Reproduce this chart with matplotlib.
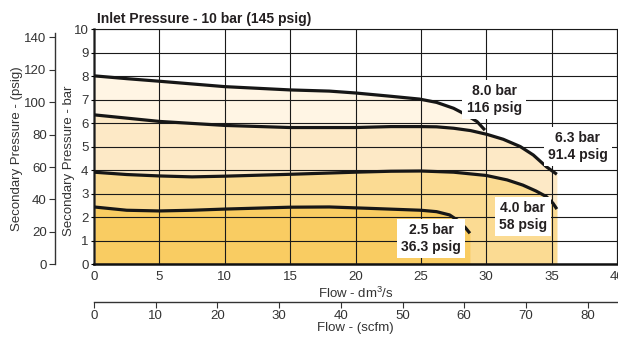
import matplotlib
matplotlib.use('Agg')
import matplotlib.pyplot as plt

plt.rcParams['font.family'] = ['Liberation Sans', 'DejaVu Sans']
plt.rcParams['mathtext.fontset'] = 'custom'
plt.rcParams['mathtext.rm'] = 'Liberation Sans'

# flow (dm3/s) vs secondary pressure (bar) for each regulator setting
flow_80 = [0, 2.5, 5, 10, 15, 18, 20, 22.7, 24.9, 26.2, 27.5, 28.5, 29.3, 29.9]
bar_80 = [8.02, 7.90, 7.79, 7.56, 7.42, 7.37, 7.29, 7.15, 7.03, 6.89, 6.64, 6.35, 6.07, 5.71]

flow_63 = [0, 2.5, 5, 10, 15, 20, 22.7, 25, 26.2, 27.5, 28.8, 30.05, 31.3, 32.6, 33.6, 34.6, 35.4]
bar_63 = [6.36, 6.22, 6.08, 5.91, 5.82, 5.82, 5.86, 5.86, 5.85, 5.79, 5.69, 5.53, 5.32, 5.01, 4.65, 4.15, 3.83]

flow_40 = [0, 2.5, 5, 7.5, 10, 15, 20, 22.7, 25, 27.5, 30, 31.6, 32.8, 33.8, 34.6, 35.1, 35.4]
bar_40 = [3.92, 3.82, 3.76, 3.72, 3.75, 3.83, 3.92, 3.96, 3.97, 3.92, 3.78, 3.59, 3.37, 3.12, 2.88, 2.60, 2.35]

flow_25 = [0, 2.5, 5, 7.5, 10, 15, 18, 21.1, 25, 26.2, 27.2, 27.9, 28.4, 28.75]
bar_25 = [2.44, 2.30, 2.27, 2.30, 2.35, 2.43, 2.44, 2.38, 2.30, 2.24, 2.10, 1.84, 1.56, 1.32]

curve_labels = ['8.0 bar\n116 psig', '6.3 bar\n91.4 psig', '4.0 bar\n58 psig', '2.5 bar\n36.3 psig']
label_pos = [(30.6, 7.0), (37.0, 5.0), (32.8, 2.03), (25.8, 1.11)]

BAR_TO_PSI = 14.5038
DM3S_TO_SCFM = 2.11888

fills = ['#fff5e4', '#fde9c6', '#fbdb93', '#f9cc62']
curves = [(flow_80, bar_80), (flow_63, bar_63), (flow_40, bar_40), (flow_25, bar_25)]
txt = '#231f20'

fig = plt.figure(figsize=(6.18, 3.37), dpi=100)
ax = fig.add_axes([94 / 618, 72.7 / 337, 523 / 618, 235 / 337])

for i, (fx, fy) in enumerate(curves):
    ax.fill_between(fx, 0, fy, color=fills[i], lw=0, zorder=1 + i * 0.1)
    ax.plot(fx, fy, color='#161616', lw=2.3, solid_capstyle='butt',
            solid_joinstyle='round', zorder=3)

for lab, (lx, ly) in zip(curve_labels, label_pos):
    ax.text(lx, ly, lab, ha='center', va='center', fontsize=10, fontweight='bold',
            color=txt, linespacing=1.25, zorder=4,
            bbox=dict(boxstyle='square,pad=0.3', fc='white', ec='none'))

ax.set_xlim(0, 40)
ax.set_ylim(0, 10)
ax.set_xticks(range(0, 41, 5))
ax.set_yticks(range(0, 11))
ax.set_axisbelow(False)
ax.grid(True, color='#1a1a1a', lw=0.8)
ax.tick_params(axis='x', length=0, pad=5, labelsize=9.5, labelcolor='#333333')
ax.tick_params(axis='y', length=2.5, width=0.8, pad=1.5, labelsize=9.5, labelcolor='#333333')
for side in ['top', 'right']:
    ax.spines[side].set_color('#1a1a1a')
    ax.spines[side].set_linewidth(0.8)
ax.spines['left'].set_color('#444444')
ax.spines['left'].set_linewidth(1.8)
ax.spines['bottom'].set_color('#111111')
ax.spines['bottom'].set_linewidth(1.8)

# psig scale on the left
ax_psi = ax.secondary_yaxis(-0.0746, functions=(lambda b: b * BAR_TO_PSI, lambda p: p / BAR_TO_PSI))
ax_psi.set_yticks(range(0, 141, 20))
ax_psi.tick_params(length=4, width=0.8, color='#333333', pad=2, labelsize=9.5, labelcolor='#333333')
ax_psi.spines['left'].set_color('#333333')
ax_psi.spines['left'].set_linewidth(1.0)
ax_psi.spines['left'].set_bounds(0, 143)

# scfm scale below
ax_scfm = ax.secondary_xaxis(-0.159, functions=(lambda d: d * DM3S_TO_SCFM, lambda s: s / DM3S_TO_SCFM))
ax_scfm.set_xticks(range(0, 81, 10))
ax_scfm.tick_params(length=4, width=0.8, color='#333333', pad=2, labelsize=9.5, labelcolor='#333333')
ax_scfm.spines['bottom'].set_color('#333333')
ax_scfm.spines['bottom'].set_linewidth(1.0)

ax.text(0.005, 1.026, 'Inlet Pressure - 10 bar (145 psig)', transform=ax.transAxes,
        ha='left', va='baseline', fontsize=10, fontweight='bold', color=txt)
ax.text(-0.047, 0.44, 'Secondary Pressure - bar', transform=ax.transAxes, rotation=90,
        ha='center', va='center', fontsize=9.5, color='#333333')
ax.text(-0.147, 0.49, 'Secondary Pressure - (psig)', transform=ax.transAxes, rotation=90,
        ha='center', va='center', fontsize=9.5, color='#333333')
ax.text(0.5, -0.122, r'Flow - dm$^{\rm 3}$/s', transform=ax.transAxes,
        ha='center', va='center', fontsize=9.5, color='#333333')
ax.text(0.5, -0.272, 'Flow - (scfm)', transform=ax.transAxes,
        ha='center', va='center', fontsize=9.5, color='#333333')

fig.savefig('out.png', dpi=100)
